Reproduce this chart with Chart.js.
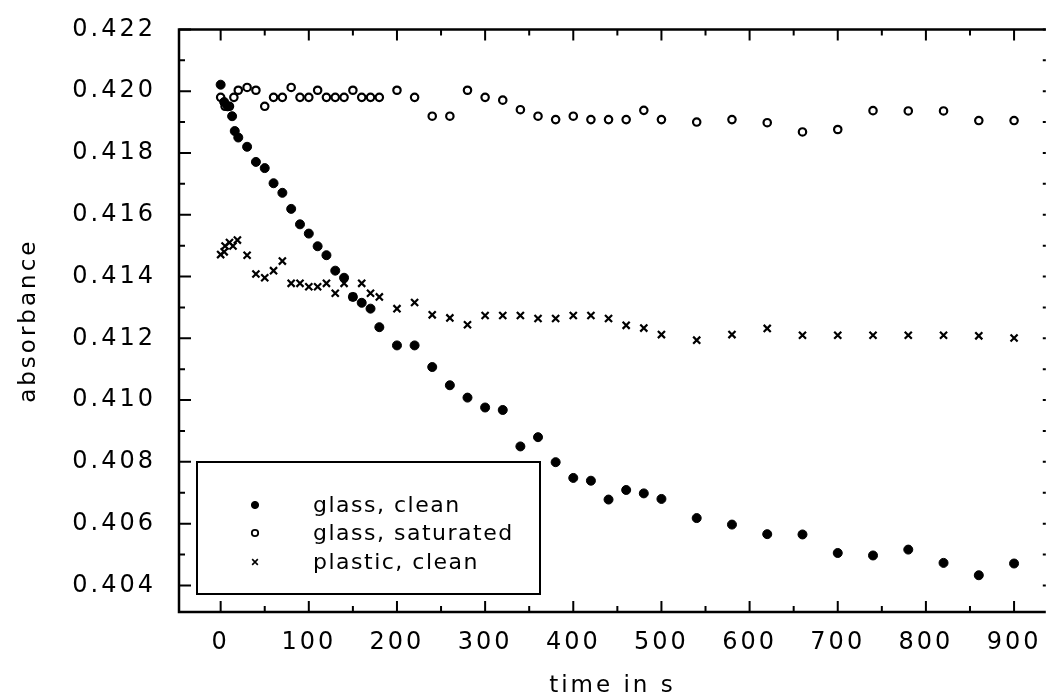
<!DOCTYPE html>
<html><head><meta charset="utf-8">
<script src="https://cdn.jsdelivr.net/npm/chart.js@4.4.0/dist/chart.umd.min.js"></script>
<style>html,body{margin:0;padding:0;background:#fff;overflow:hidden}canvas{display:block}</style>
</head><body>
<canvas id="c" width="1053" height="700"></canvas>
<script>
// ---- data (time in s, absorbance) ----
const timeGlassClean = [0,4,8,13,16,20,30,40,50,60,70,80,90,100,110,120,130,140,150,160,170,180,200,220,240,260,280,300,320,340,360,380,400,420,440,460,480,500,540,580,620,660,700,740,780,820,860,900];
const absGlassClean = [0.42021,0.41965,0.41951,0.41919,0.41871,0.41850,0.41820,0.41771,0.41751,0.41702,0.41671,0.41619,0.41569,0.41539,0.41498,0.41469,0.41419,0.41396,0.41334,0.41315,0.41296,0.41236,0.41177,0.41177,0.41107,0.41048,0.41008,0.40976,0.40968,0.40850,0.40880,0.40799,0.40748,0.40739,0.40678,0.40709,0.40698,0.40680,0.40618,0.40597,0.40566,0.40565,0.40505,0.40497,0.40516,0.40473,0.40433,0.40471];

const timeGlassSat = [0,5,10,15,20,30,40,50,60,70,80,90,100,110,120,130,140,150,160,170,180,200,220,240,260,280,300,320,340,360,380,400,420,440,460,480,500,540,580,620,660,700,740,780,820,860,900];
const absGlassSat = [0.41980,0.41951,0.41951,0.41980,0.42003,0.42012,0.42003,0.41951,0.41980,0.41980,0.42012,0.41980,0.41980,0.42003,0.41980,0.41980,0.41980,0.42003,0.41980,0.41980,0.41980,0.42003,0.41980,0.41919,0.41919,0.42003,0.41980,0.41971,0.41940,0.41919,0.41908,0.41919,0.41908,0.41908,0.41908,0.41938,0.41908,0.41900,0.41908,0.41898,0.41868,0.41876,0.41937,0.41936,0.41936,0.41905,0.41905];

const timePlastic = [0,4,5,10,14,19,30,40,50,60,70,80,90,100,110,120,130,140,150,160,170,180,200,220,240,260,280,300,320,340,360,380,400,420,440,460,480,500,540,580,620,660,700,740,780,820,860,900];
const absPlastic = [0.41471,0.41480,0.41499,0.41510,0.41499,0.41518,0.41469,0.41408,0.41396,0.41419,0.41450,0.41378,0.41378,0.41367,0.41367,0.41378,0.41346,0.41378,0.41334,0.41378,0.41346,0.41334,0.41296,0.41316,0.41276,0.41266,0.41244,0.41274,0.41274,0.41274,0.41264,0.41264,0.41274,0.41274,0.41264,0.41242,0.41233,0.41212,0.41194,0.41212,0.41232,0.41210,0.41210,0.41210,0.41210,0.41210,0.41208,0.41201];

const seriesNames = ['glass, clean', 'glass, saturated', 'plastic, clean'];
const xTickValues = [0,100,200,300,400,500,600,700,800,900];
const yTickValues = [0.404,0.406,0.408,0.410,0.412,0.414,0.416,0.418,0.420,0.422];
const xTitle = 'time in s';
const yTitle = 'absorbance';

// ---- styling ----
const FONT = "'DejaVu Sans', sans-serif";
const SPACING = '3px';

function toPoints(t, a) { return t.map((x, i) => ({x: x, y: a[i]})); }

const spacingPlugin = {
  id: 'spacing',
  beforeUpdate(c) { c.ctx.letterSpacing = SPACING; },
  beforeLayout(c) { c.ctx.letterSpacing = SPACING; },
  beforeDraw(c) { c.ctx.letterSpacing = SPACING; }
};

const framePlugin = {
  id: 'frame',
  afterDatasetsDraw(chart) {
    const ctx = chart.ctx;
    const {left, right, top, bottom} = chart.chartArea;
    const x = chart.scales.x, y = chart.scales.y;
    ctx.save();
    ctx.strokeStyle = '#000';
    ctx.lineWidth = 2.5;
    ctx.beginPath();
    ctx.moveTo(left, top); ctx.lineTo(right, top);
    ctx.moveTo(left, top - 1.25); ctx.lineTo(left, bottom + 1.25);
    ctx.moveTo(left, bottom); ctx.lineTo(right, bottom);
    ctx.stroke();
    ctx.lineWidth = 2;
    ctx.beginPath();
    for (let v = Math.ceil(x.min / 50) * 50; v <= x.max; v += 50) {
      const px = x.getPixelForValue(v);
      const len = (v % 100 === 0) ? 11 : 6;
      ctx.moveTo(px, bottom); ctx.lineTo(px, bottom - len);
      ctx.moveTo(px, top); ctx.lineTo(px, top + len);
    }
    for (let k = Math.ceil(y.min * 1000 - 1e-6); k <= Math.floor(y.max * 1000 + 1e-6); k++) {
      const py = y.getPixelForValue(k / 1000);
      const len = (k % 2 === 0) ? 12 : 6;
      ctx.moveTo(left, py); ctx.lineTo(left + len, py);
      ctx.moveTo(right, py); ctx.lineTo(right - 3, py);
    }
    ctx.stroke();

    // legend box
    const bx = left + 18, by = bottom - 150, bw = 343, bh = 132;
    ctx.fillStyle = '#fff';
    ctx.fillRect(bx, by, bw, bh);
    ctx.lineWidth = 2;
    ctx.strokeRect(bx, by, bw, bh);
    const rows = [bottom - 107, bottom - 79, bottom - 50];
    const mx = left + 76, tx = left + 134;
    const styles = [
      {pointStyle: 'circle', radius: 3.6, borderWidth: 1, fill: '#000'},
      {pointStyle: 'circle', radius: 3.2, borderWidth: 1.8, fill: '#fff'},
      {pointStyle: 'crossRot', radius: 4, borderWidth: 1.6, fill: '#000'}
    ];
    ctx.font = "22px 'DejaVu Sans', sans-serif";
    ctx.letterSpacing = '1.5px';
    ctx.textBaseline = 'middle';
    ctx.textAlign = 'left';
    seriesNames.forEach((name, i) => {
      const s = styles[i];
      ctx.fillStyle = s.fill;
      ctx.strokeStyle = '#000';
      ctx.lineWidth = s.borderWidth;
      Chart.helpers.drawPoint(ctx, {pointStyle: s.pointStyle, radius: s.radius, rotation: 0, borderWidth: s.borderWidth}, mx, rows[i]);
      ctx.fillStyle = '#000';
      ctx.fillText(name, tx, rows[i] + 1);
    });
    ctx.restore();
  }
};

new Chart(document.getElementById('c'), {
  type: 'scatter',
  data: {
    datasets: [
      {label: seriesNames[0], data: toPoints(timeGlassClean, absGlassClean), pointStyle: 'circle', pointRadius: 4.5, pointBackgroundColor: '#000', pointBorderColor: '#000', pointBorderWidth: 1, showLine: false},
      {label: seriesNames[1], data: toPoints(timeGlassSat, absGlassSat), pointStyle: 'circle', pointRadius: 3.7, pointBackgroundColor: '#fff', pointBorderColor: '#000', pointBorderWidth: 2.2, showLine: false},
      {label: seriesNames[2], data: toPoints(timePlastic, absPlastic), pointStyle: 'crossRot', pointRadius: 5, pointBorderColor: '#000', pointBorderWidth: 2.2, showLine: false}
    ]
  },
  options: {
    responsive: false,
    animation: false,
    devicePixelRatio: 1,
    layout: {padding: {top: 25, left: 0, right: 0, bottom: 0}},
    plugins: {legend: {display: false}, tooltip: {enabled: false}},
    scales: {
      x: {
        type: 'linear', min: -47.25, max: 936,
        grid: {display: false}, border: {display: false},
        afterBuildTicks(a) { a.ticks = xTickValues.map(v => ({value: v})); },
        afterFit(a) { a.height = 88; },
        ticks: {padding: 8, color: '#000', font: {family: FONT, size: 24}, maxRotation: 0, autoSkip: false, callback: v => String(v)},
        title: {display: true, text: xTitle, color: '#000', font: {family: FONT, size: 23}, padding: {top: 0, bottom: 0}}
      },
      y: {
        type: 'linear', min: 0.40314, max: 0.422,
        grid: {display: false}, border: {display: false},
        afterBuildTicks(a) { a.ticks = yTickValues.map(v => ({value: v})); },
        afterFit(a) { a.width = 179; },
        ticks: {padding: 15, color: '#000', font: {family: FONT, size: 24}, autoSkip: false, callback: v => v.toFixed(3)},
        title: {display: true, text: yTitle, color: '#000', font: {family: FONT, size: 23}, padding: {top: 15, bottom: 0}}
      }
    }
  },
  plugins: [spacingPlugin, framePlugin]
});
</script>
</body></html>
